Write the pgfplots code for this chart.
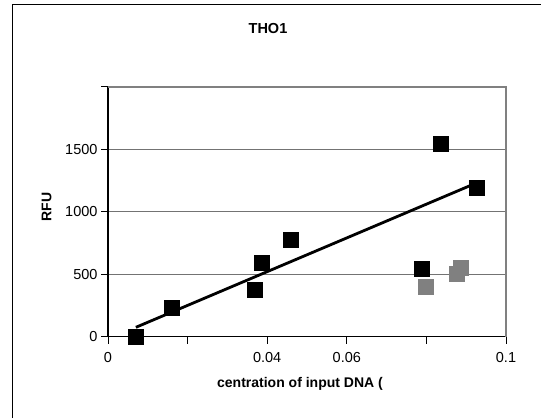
\documentclass[border=0pt]{standalone}
\usepackage{pgfplots}
\pgfplotsset{compat=1.18}
\usepackage{fontspec}
\setmainfont{Liberation Sans}
\definecolor{grayfill}{HTML}{808080}
\begin{document}
\begin{tikzpicture}[x=1pt,y=1pt]
\path[use as bounding box] (0,0) rectangle (541,418);
\draw[line width=1.3pt] (12.7,0) -- (12.7,413.3) -- (541,413.3);
\node[font=\bfseries\fontsize{14.5}{16}\selectfont] at (268,389) {THO1};
\node[font=\bfseries\fontsize{14}{16}\selectfont, rotate=90] at (46.7,211) {RFU};
\node[font=\bfseries\fontsize{14}{16}\selectfont] at (300,34) {centration of input DNA (};
\begin{axis}[
  at={(108pt,81.3pt)}, anchor=south west,
  scale only axis, width=398pt, height=250pt,
  xmin=0, xmax=0.1, ymin=0, ymax=2000,
  axis x line*=bottom, axis y line*=left,
  axis line style={black, line width=1.4pt, -},
  xtick={0,0.02,0.04,0.06,0.08,0.1},
  xticklabels={0,,0.04,0.06,,0.1},
  scaled x ticks=false,
  ytick={0,500,1000,1500,2000},
  yticklabels={0,500,1000,1500,},
  tick align=outside, major tick length=7pt,
  tick style={black, line width=1pt},
  ymajorgrids, grid style={black!55, line width=0.8pt},
  tick label style={font=\fontsize{14.5}{16}\selectfont},
  xticklabel style={yshift=-5pt},
  /pgf/number format/assume math mode=true,
  clip=false,
]
\draw[grayfill, line width=2pt] (rel axis cs:0,1) -- (rel axis cs:1,1) -- (rel axis cs:1,0);
\addplot[black, line width=2.8pt, no marks] coordinates {(0.007,75) (0.0928,1233)};
\addplot[only marks, mark=square*, mark size=7.5pt, mark options={fill=black, draw=black, line width=0pt}] coordinates {
(0.007,0) (0.016,227) (0.0369,374) (0.0388,587) (0.0459,774) (0.0837,1539) (0.0928,1192) (0.0788,542)};
\addplot[only marks, mark=square*, mark size=7.5pt, mark options={fill=grayfill, draw=grayfill, line width=0pt}] coordinates {
(0.0798,400) (0.0878,502) (0.0888,552)};
\end{axis}
\end{tikzpicture}
\end{document}
